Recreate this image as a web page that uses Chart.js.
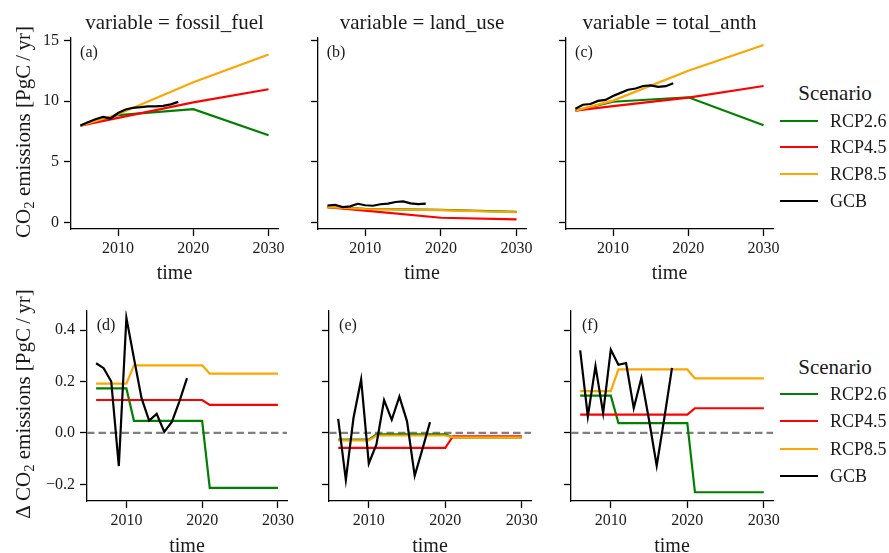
<!DOCTYPE html>
<html>
<head>
<meta charset="utf-8">
<script src="https://cdn.jsdelivr.net/npm/chart.js@4.4.1/dist/chart.umd.min.js"></script>
<style>
  body { margin: 0; background: #fff; }
  #fig { position: relative; width: 889px; height: 553px; overflow: hidden; font-family: "Liberation Serif", serif; color: #1a1a1a; }
  canvas { position: absolute; }
  .txt { position: absolute; white-space: nowrap; transform: translate(-50%, -50%); line-height: 1; }
  .ylab { position: absolute; white-space: nowrap; transform: translate(-50%, -50%) rotate(-90deg); font-size: 21px; line-height: 1; }
  .sub { font-size: 70%; position: relative; top: 0.3em; }
  .lgline { position: absolute; height: 2px; width: 38px; }
  .lgtxt { position: absolute; font-size: 18px; white-space: nowrap; transform: translateY(-50%); line-height: 1; }
</style>
</head>
<body>
<div id="fig"></div>
<script>
// ---- data ----
// scenario knots (top row)
const rcpYears = [2005, 2010, 2020, 2030];
const ffRcp26 = [7.97, 8.85, 9.33, 7.18];
const ffRcp45 = [7.97, 8.62, 9.90, 10.98];
const ffRcp85 = [7.97, 8.92, 11.55, 13.85];
const luRcp26 = [1.25, 1.11, 1.03, 0.86];
const luRcp45 = [1.25, 0.96, 0.38, 0.25];
const luRcp85 = [1.25, 1.10, 1.00, 0.83];
const taRcp26 = [9.22, 9.95, 10.32, 8.01];
const taRcp45 = [9.22, 9.58, 10.29, 11.25];
const taRcp85 = [9.22, 10.04, 12.51, 14.63];

// Global Carbon Budget, 2005-2018
const gcbYears = [2005, 2006, 2007, 2008, 2009, 2010, 2011, 2012, 2013, 2014, 2015, 2016, 2017, 2018];
const ffGcb = [7.98, 8.25, 8.50, 8.70, 8.57, 9.02, 9.31, 9.45, 9.50, 9.57, 9.57, 9.61, 9.73, 9.94];
const luGcb = [1.39, 1.45, 1.26, 1.32, 1.53, 1.41, 1.37, 1.49, 1.54, 1.68, 1.73, 1.56, 1.50, 1.54];
const taGcb = [9.37, 9.70, 9.76, 10.02, 10.10, 10.43, 10.68, 10.94, 11.04, 11.25, 11.30, 11.17, 11.23, 11.48];

// year-on-year differences (bottom row)
const dRcpYears = [2006, 2010, 2011, 2020, 2021, 2030];
const dFf26 = [0.173, 0.173, 0.047, 0.047, -0.214, -0.214];
const dFf45 = [0.128, 0.128, 0.128, 0.128, 0.109, 0.109];
const dFf85 = [0.192, 0.192, 0.263, 0.263, 0.231, 0.231];
const dLu26 = [-0.026, -0.026, -0.006, -0.006, -0.017, -0.017];
const dLu45 = [-0.058, -0.058, -0.058, -0.058, -0.013, -0.013];
const dLu85 = [-0.029, -0.029, -0.010, -0.010, -0.017, -0.017];
const dTa26 = [0.145, 0.145, 0.038, 0.038, -0.231, -0.231];
const dTa45 = [0.071, 0.071, 0.071, 0.071, 0.096, 0.096];
const dTa85 = [0.163, 0.163, 0.247, 0.247, 0.212, 0.212];

const dGcbYears = [2006, 2007, 2008, 2009, 2010, 2011, 2012, 2013, 2014, 2015, 2016, 2017, 2018];
const dFfGcb = [0.271, 0.252, 0.200, -0.129, 0.448, 0.290, 0.135, 0.048, 0.074, 0.004, 0.043, 0.123, 0.213];
const dLuGcb = [0.055, -0.183, 0.058, 0.208, -0.119, -0.045, 0.128, 0.051, 0.141, 0.045, -0.167, -0.064, 0.042];
const dTaGcb = [0.321, 0.064, 0.260, 0.077, 0.324, 0.265, 0.272, 0.096, 0.214, 0.050, -0.128, 0.058, 0.253];

const xTicks = [2010, 2020, 2030];
const yTicksTop = [0, 5, 10, 15];
const yTicksBottom = [-0.2, 0.0, 0.2, 0.4];
const variables = ['fossil_fuel', 'land_use', 'total_anth'];
const scenarios = ['RCP2.6', 'RCP4.5', 'RCP8.5', 'GCB'];
const colors = ['green', 'red', 'orange', 'black'];

// ---- layout ----
const fig = document.getElementById('fig');
const FONT = 'Liberation Serif';
const YW = 60, XH = 42, PT = 12, PR = 24;

function pts(xs, ys) {
  return xs.map((x, i) => ({ x: x, y: ys[i] }));
}

function addText(html, x, y, size, cls) {
  const d = document.createElement('div');
  d.className = cls || 'txt';
  d.style.left = x + 'px';
  d.style.top = y + 'px';
  if (size) d.style.fontSize = size + 'px';
  d.innerHTML = html;
  fig.appendChild(d);
  return d;
}

// dashed zero line for difference panels
const zeroLine = {
  id: 'zeroLine',
  beforeDatasetsDraw(chart, args, opts) {
    if (!opts.show) return;
    const { ctx, chartArea, scales } = chart;
    const y = scales.y.getPixelForValue(0);
    ctx.save();
    ctx.strokeStyle = '#808080';
    ctx.lineWidth = 2.2;
    ctx.setLineDash([7.5, 4]);
    ctx.beginPath();
    ctx.moveTo(chartArea.left, y);
    ctx.lineTo(chartArea.right, y);
    ctx.stroke();
    ctx.restore();
  }
};

function makePanel(box, xr, yr, yTicks, yFmt, series, showZero) {
  const c = document.createElement('canvas');
  const w = YW + (box.r - box.l) + PR;
  const h = PT + (box.b - box.t) + XH;
  c.width = w; c.height = h;
  c.style.left = (box.l - YW) + 'px';
  c.style.top = (box.t - PT) + 'px';
  c.style.width = w + 'px'; c.style.height = h + 'px';
  fig.appendChild(c);

  // dataset 0 is drawn on top
  const datasets = [3, 2, 1, 0].map(i => ({
    label: scenarios[i],
    data: series[i],
    borderColor: colors[i],
    borderWidth: 2.2,
    pointRadius: 0,
    tension: 0,
    fill: false
  }));

  return new Chart(c, {
    type: 'line',
    data: { datasets: datasets },
    plugins: [zeroLine],
    options: {
      responsive: false,
      animation: false,
      devicePixelRatio: 1,
      layout: { padding: { top: PT, right: PR, left: 0, bottom: 0 } },
      plugins: { legend: { display: false }, tooltip: { enabled: false }, zeroLine: { show: showZero } },
      scales: {
        x: {
          type: 'linear', min: xr[0], max: xr[1],
          afterFit: s => { s.height = XH; },
          afterBuildTicks: s => { s.ticks = xTicks.map(v => ({ value: v })); },
          grid: { drawOnChartArea: false, tickLength: 7, color: '#000', tickWidth: 1.3 },
          border: { color: '#000', width: 1.3 },
          ticks: { color: '#1a1a1a', font: { family: FONT, size: 16 }, padding: 3, maxRotation: 0, callback: v => String(v) }
        },
        y: {
          type: 'linear', min: yr[0], max: yr[1],
          afterFit: s => { s.width = YW; },
          afterBuildTicks: s => { s.ticks = yTicks.map(v => ({ value: v })); },
          grid: { drawOnChartArea: false, tickLength: 7, color: '#000', tickWidth: 1.3 },
          border: { color: '#000', width: 1.3 },
          ticks: { color: '#1a1a1a', font: { family: FONT, size: 16 }, padding: 5, callback: yFmt }
        }
      }
    }
  });
}

const topBoxes = [
  { l: 71, r: 278, t: 35, b: 229 },
  { l: 318, r: 526, t: 35, b: 229 },
  { l: 566, r: 773, t: 35, b: 229 }
];
const botBoxes = [
  { l: 87, r: 287, t: 308, b: 501 },
  { l: 329, r: 531, t: 308, b: 501 },
  { l: 571, r: 773, t: 308, b: 501 }
];

const topSeries = [
  [pts(rcpYears, ffRcp26), pts(rcpYears, ffRcp45), pts(rcpYears, ffRcp85), pts(gcbYears, ffGcb)],
  [pts(rcpYears, luRcp26), pts(rcpYears, luRcp45), pts(rcpYears, luRcp85), pts(gcbYears, luGcb)],
  [pts(rcpYears, taRcp26), pts(rcpYears, taRcp45), pts(rcpYears, taRcp85), pts(gcbYears, taGcb)]
];
const botSeries = [
  [pts(dRcpYears, dFf26), pts(dRcpYears, dFf45), pts(dRcpYears, dFf85), pts(dGcbYears, dFfGcb)],
  [pts(dRcpYears, dLu26), pts(dRcpYears, dLu45), pts(dRcpYears, dLu85), pts(dGcbYears, dLuGcb)],
  [pts(dRcpYears, dTa26), pts(dRcpYears, dTa45), pts(dRcpYears, dTa85), pts(dGcbYears, dTaGcb)]
];

const topFmt = v => String(v);
const botFmt = v => (v < 0 ? '\u2212' : '') + Math.abs(v).toFixed(1);
const noFmt = () => '';

topBoxes.forEach((b, i) => {
  makePanel(b, [2003.75, 2031.25], [-0.55, 15.24], yTicksTop, i === 0 ? topFmt : noFmt, topSeries[i], false);
  addText('variable = ' + variables[i], (b.l + b.r) / 2, 22, 21);
  addText('time', (b.l + b.r) / 2, 272, 20);
  addText('(' + 'abc'[i] + ')', b.l + 18, 52, 16);
});
botBoxes.forEach((b, i) => {
  makePanel(b, [2004.8, 2031.2], [-0.265, 0.476], yTicksBottom, i === 0 ? botFmt : noFmt, botSeries[i], true);
  addText('time', (b.l + b.r) / 2, 545, 20);
  addText('(' + 'def'[i] + ')', b.l + 19, 325, 16);
});

// axis labels
addText('CO<span class="sub">2</span> emissions [PgC\u2009/\u2009yr]', 23, 132, null, 'ylab');
addText('\u0394\u2009CO<span class="sub">2</span> emissions [PgC\u2009/\u2009yr]', 23, 404, null, 'ylab');

// legends
function legend(titleY, rowYs) {
  addText('Scenario', 835, titleY, 21);
  rowYs.forEach((y, i) => {
    const l = document.createElement('div');
    l.className = 'lgline';
    l.style.left = '780px';
    l.style.top = (y - 1) + 'px';
    l.style.background = colors[i];
    fig.appendChild(l);
    addText(scenarios[i], 830, y, null, 'lgtxt');
  });
}
legend(93, [121, 147, 174, 201]);
legend(367, [394, 421, 449, 476]);
</script>
</body>
</html>
